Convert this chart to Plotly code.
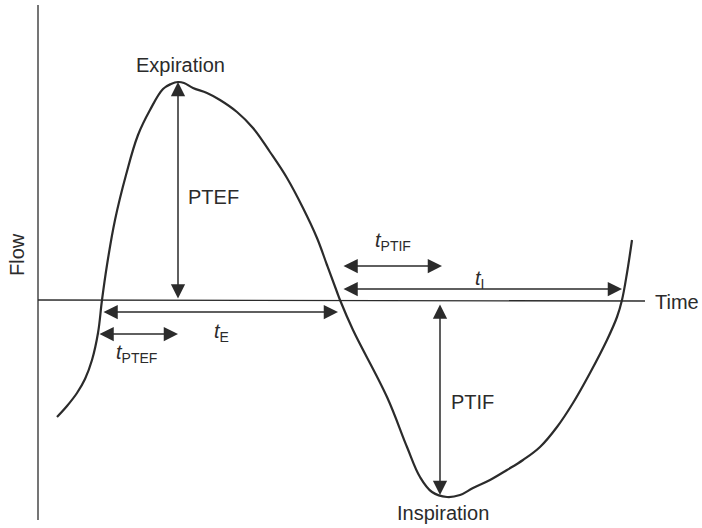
import plotly.graph_objects as go

# flow curve (time, flow) in arbitrary units, flow = 0 on the time axis
time = [57, 67, 77, 85, 92, 98, 102, 107, 115, 126, 138, 150, 163, 171, 178,
        184, 193, 207, 220, 237, 253, 270, 287, 303, 317, 327, 337, 340,
        353, 387, 407, 420, 432, 447, 460, 473, 490, 507, 523, 540, 557,
        573, 590, 607, 617, 622, 627, 632]
flow = [-117, -106, -93, -79, -60, -33, 0, 35, 80, 125, 165, 190, 211, 216, 218,
        217, 212, 207, 200, 188, 172, 148, 122, 92, 62, 35, 8, 0,
        -30, -97, -147, -177, -192, -197, -195, -188, -180, -170, -160, -147, -127,
        -103, -73, -40, -17, 0, 27, 60]

# key timings / flows
t_start_exp = 102
t_ptef = 178
t_end_exp = 338
t_start_insp = 342
t_ptif = 442
t_end_insp = 622
ptef = 218
ptif = -195

ink = "#2b2b2b"
font = "Liberation Sans, Arial, sans-serif"

fig = go.Figure()
fig.add_trace(go.Scatter(x=time, y=flow, mode="lines",
                         line=dict(color=ink, width=2.2, shape="spline", smoothing=1.1),
                         hoverinfo="skip"))

# axes
fig.add_shape(type="line", x0=38, x1=38, y0=295, y1=-220, line=dict(color=ink, width=1.3))
fig.add_shape(type="line", x0=38, x1=645, y0=0, y1=-1, line=dict(color=ink, width=1.3))


def double_arrow(x0, y0, x1, y1):
    fig.add_annotation(x=x1, y=y1, ax=x0, ay=y0, xref="x", yref="y", axref="x", ayref="y",
                       text="", showarrow=True, arrowhead=2, startarrowhead=2,
                       arrowside="end+start", arrowsize=1.9, startarrowsize=1.9,
                       arrowwidth=1.5, arrowcolor=ink, standoff=0, startstandoff=0)


double_arrow(t_ptef, 0, t_ptef, ptef)
double_arrow(t_start_exp, -12, t_end_exp, -12)
double_arrow(t_start_exp - 4, -34, t_ptef, -34)
double_arrow(t_start_insp, 34, t_ptif, 34)
double_arrow(t_start_insp, 11, t_end_insp, 11)
double_arrow(t_ptif - 2, -3, t_ptif - 2, ptif)

labels = [
    ("Expiration", 180, 235, 0),
    ("PTEF", 213, 103, 0),
    ("PTIF", 472, -102, 0),
    ("Inspiration", 443, -213, 0),
    ("Time", 677, -2, 0),
    ("Flow", 17, 45, -90),
    ("<i>t</i><sub>E</sub>", 221, -32, 0),
    ("<i>t</i><sub>PTEF</sub>", 136, -53, 0),
    ("<i>t</i><sub>PTIF</sub>", 393, 59, 0),
    ("<i>t</i><sub>I</sub>", 479, 21, 0),
]
for txt, x, y, ang in labels:
    fig.add_annotation(x=x, y=y, xref="x", yref="y", text=txt, showarrow=False,
                       textangle=ang, font=dict(family=font, size=20, color=ink))

fig.update_xaxes(range=[0, 702], visible=False)
fig.update_yaxes(range=[-228, 300], visible=False)
fig.update_layout(width=702, height=528, margin=dict(l=0, r=0, t=0, b=0),
                  plot_bgcolor="white", paper_bgcolor="white", showlegend=False)

fig.write_html("out.html", config={"displayModeBar": False},
               post_script="document.body.style.margin='0';document.body.style.overflow='hidden';")
